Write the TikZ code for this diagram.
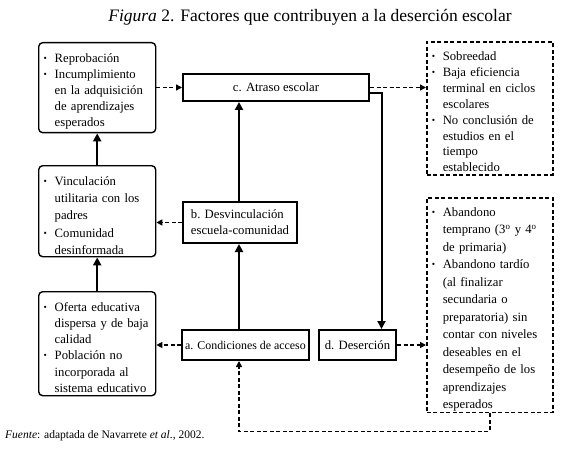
\documentclass[tikz,border=0pt]{standalone}
\usepackage{fontspec}
\setmainfont{Liberation Serif}
\usetikzlibrary{arrows.meta,calc}
\newlength{\bulw}
\setlength{\bulw}{11pt}
\newcommand{\nl}{\hfil\break}
\newcommand{\itm}[1]{\par\noindent\hangindent=\bulw\hangafter=1\makebox[\bulw][l]{\raisebox{0.15ex}{\fontsize{9.5}{9.5}\selectfont\textbullet}}#1\par}
\tikzset{
  bodyfont/.style={font=\fontsize{12.7}{#1}\selectfont},
  rbox/.style={draw, line width=1.4pt, rounded corners=4pt, anchor=north west, inner xsep=5pt, inner ysep=1pt, text width=107pt, minimum width=117pt},
  sbox/.style={draw, line width=2pt, anchor=north west, inner xsep=4pt, inner ysep=2pt, bodyfont=15},
  dbox/.style={draw, line width=1.6pt, dash pattern=on 4pt off 2.5pt, anchor=north west, inner xsep=5pt, inner ysep=1pt, text width=116pt, minimum width=126pt},
  sarr/.style={line width=2pt, -{Triangle[length=8pt,width=8pt]}},
  dline/.style={line width=1.6pt, dash pattern=on 4pt off 2.5pt},
  darr/.style={dline, -{Triangle[length=6pt,width=6pt]}},
}
\begin{document}
\begin{tikzpicture}[x=1pt,y=-1pt]
\useasboundingbox (0,0) rectangle (563,452);
% title
\node[font=\fontsize{17.5}{20}\selectfont] (title) at (310,17) {\textit{Figura} 2. Factores que contribuyen a la deserción escolar};
% left column
\node[rbox, bodyfont=16, minimum height=90pt] (r1) at (38,42)
 {\itm{Reprobación}\itm{Incumplimiento\nl en la adquisición\nl de aprendizajes\nl esperados}};
\node[rbox, bodyfont=17.3, minimum height=91pt] (r2) at (38,165)
 {\itm{Vinculación\nl utilitaria con los\nl padres}\itm{Comunidad\nl desinformada}};
\node[rbox, bodyfont=16.2, minimum height=104pt] (r3) at (38,291)
 {\itm{Oferta educativa\nl dispersa y de baja\nl calidad}\itm{Población no\nl incorporada al\nl sistema educativo}};
% center boxes
\node[sbox, minimum width=186pt, minimum height=27pt] (c) at (182,73) {c. Atraso escolar};
\node[sbox, minimum width=114pt, minimum height=41pt, align=left, bodyfont=16] (b) at (182,201) {b. Desvinculación\\ escuela-comunidad};
\node[sbox, minimum width=127pt, minimum height=30pt, inner xsep=3pt, font=\fontsize{11.9}{15}\selectfont] (a) at (181,329) {a. Condiciones de acceso};
\node[sbox, minimum width=77pt, minimum height=30pt] (d) at (318,329) {d. Deserción};
% right column
\node[dbox, bodyfont=15.9, minimum height=133pt] (s) at (426,41)
 {\itm{Sobreedad}\itm{Baja eficiencia\nl terminal en ciclos\nl escolares}\itm{No conclusión de\nl estudios en el\nl tiempo\nl establecido}};
\node[dbox, bodyfont=17.5, minimum height=204pt] (ab) at (426,197)
 {\itm{Abandono\nl temprano (3\textsuperscript{o} y 4\textsuperscript{o}\nl de primaria)}\itm{Abandono tardío\nl (al finalizar\nl secundaria o\nl preparatoria) sin\nl contar con niveles\nl deseables en el\nl desempeño de los\nl aprendizajes\nl esperados}};
% source
\node[anchor=west, font=\fontsize{11.5}{13}\selectfont, inner sep=0pt] (src) at (5,436) {\textit{Fuente}: adaptada de Navarrete \textit{et al}., 2002.};
% connectors
\draw[sarr] (r2.north) -- (r1.south);
\draw[sarr] (r3.north) -- (r2.south);
\draw[darr] (r1.east |- c.west) -- (c.west);
\draw[darr] (c.east) -- (c.east -| s.west);
\draw[darr] (b.west) -- (b.west -| r2.east);
\draw[darr] (a.west) -- (a.west -| r3.east);
\draw[darr] (d.east) -- (d.east -| ab.west);
\draw[sarr] ([xshift=-1pt]b.north) -- ([xshift=-1pt]b.north |- c.south);
\draw[sarr] ([xshift=-1pt]b.south |- a.north) -- ([xshift=-1pt]b.south);
\draw[sarr] ([yshift=-6pt]c.east) -| ([xshift=24pt]d.north);
\draw[darr] (ab.south) -- ++(0,18) -| ([xshift=-1pt]b.south |- a.south);
\end{tikzpicture}
\end{document}
